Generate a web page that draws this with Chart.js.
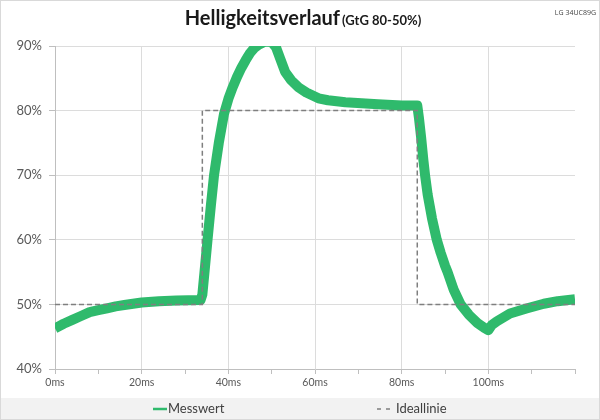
<!DOCTYPE html>
<html>
<head>
<meta charset="utf-8">
<script src="https://cdn.jsdelivr.net/npm/chart.js@4"></script>
<style>
html,body{margin:0;padding:0;background:#fff;}
#wrap{width:600px;height:420px;}
</style>
</head>
<body>
<div id="wrap"><canvas id="c" width="600" height="420"></canvas></div>
<script>
// ---- data ----
const titleMain = "Helligkeitsverlauf";
const titleSub = "(GtG 80-50%)";
const monitorLabel = "LG 34UC89G";
const seriesNames = ["Messwert", "Ideallinie"];

const messTime = [0, 2, 4, 6, 8, 10, 12, 14, 16, 18, 20, 24, 28, 33.6, 34.0, 34.5, 35.2, 36.0, 36.7, 37.8, 39.0, 40.1, 41.0, 42.0, 43.0, 44.0, 45.0, 46.0, 47.0, 48.5, 50.0, 51.0, 52.0, 53.1, 54.5, 56.2, 58.0, 60.8, 63.0, 67.0, 74.5, 80.0, 83.6, 84.0, 84.5, 85.0, 85.4, 86.0, 87.0, 88.1, 89.0, 90.0, 90.6, 92.0, 93.6, 95.5, 97.5, 99.0, 100.0, 100.8, 102, 105, 109, 112.8, 116, 120];
const messValue = [46.3, 47.0, 47.6, 48.2, 48.8, 49.1, 49.4, 49.7, 49.9, 50.1, 50.3, 50.5, 50.6, 50.7, 51.5, 55.0, 60.0, 65.5, 70.0, 75.0, 79.5, 82.0, 83.6, 85.2, 86.6, 87.8, 88.9, 89.7, 90.2, 90.7, 90.6, 89.8, 88.0, 86.0, 84.7, 83.6, 82.8, 81.9, 81.6, 81.3, 81.0, 80.8, 80.8, 78.8, 75.8, 72.4, 70.0, 67.0, 63.3, 60.0, 58.0, 56.0, 55.0, 52.3, 50.0, 48.4, 47.1, 46.4, 46.0, 46.8, 47.4, 48.6, 49.4, 50.1, 50.5, 50.8];

const idealTime = [0, 34, 34, 83.6, 83.6, 120];
const idealValue = [50, 50, 80, 80, 50, 50];

const xTickValues = [0, 20, 40, 60, 80, 100];
const yTickValues = [40, 50, 60, 70, 80, 90];

// ---- styling ----
const GREEN = '#2fba6c';
const DASH = '#7f7f7f';
const GRID = '#dcdcdc';
const AXIS = '#bfbfbf';
const TEXT = '#595959';

const toXY = (xs, ys) => xs.map((x, i) => ({x: x, y: ys[i]}));

const decorPlugin = {
  id: 'decor',
  beforeDraw(chart) {
    const ctx = chart.ctx;
    ctx.save();
    ctx.fillStyle = '#ffffff';
    ctx.fillRect(0, 0, chart.width, chart.height);
    // legend strip
    ctx.fillStyle = '#f2f2f2';
    ctx.fillRect(1, 398, chart.width - 2, 21);
    ctx.restore();
  },
  afterDraw(chart) {
    const ctx = chart.ctx;
    ctx.save();
    // title
    ctx.fillStyle = '#1a1a1a';
    ctx.textBaseline = 'alphabetic';
    const f1 = 'bold 20px Lato, "Open Sans", sans-serif';
    const f2 = 'bold 13px Lato, "Open Sans", sans-serif';
    ctx.font = f1;
    const w1 = ctx.measureText(titleMain).width;
    ctx.font = f2;
    const w2 = ctx.measureText(titleSub).width;
    const start = 303 - (w1 + 2 + w2) / 2;
    ctx.font = f1;
    ctx.textAlign = 'left';
    ctx.fillText(titleMain, start, 25);
    ctx.font = f2;
    ctx.fillText(titleSub, start + w1 + 2, 25);
    // monitor label
    ctx.font = '7px "Open Sans", sans-serif';
    ctx.fillStyle = '#444';
    ctx.textAlign = 'right';
    ctx.fillText(monitorLabel, 596, 15);
    // legend
    const ly = 409;
    ctx.textBaseline = 'middle';
    ctx.textAlign = 'left';
    ctx.font = '13px Lato, "Open Sans", sans-serif';
    ctx.fillStyle = '#404040';
    ctx.strokeStyle = GREEN;
    ctx.lineWidth = 2.5;
    ctx.beginPath(); ctx.moveTo(153, ly); ctx.lineTo(167, ly); ctx.stroke();
    ctx.fillText(chart.data.datasets[0].label, 168, ly);
    ctx.strokeStyle = DASH;
    ctx.lineWidth = 1.5;
    ctx.setLineDash([4, 5]);
    ctx.beginPath(); ctx.moveTo(377, ly); ctx.lineTo(393, ly); ctx.stroke();
    ctx.setLineDash([]);
    ctx.fillText(chart.data.datasets[1].label, 396, ly);
    // frame
    ctx.strokeStyle = '#d9d9d9';
    ctx.lineWidth = 1;
    ctx.strokeRect(0.5, 0.5, chart.width - 1, chart.height - 1);
    ctx.restore();
  }
};

new Chart(document.getElementById('c'), {
  type: 'line',
  data: {
    datasets: [
      {
        label: seriesNames[0],
        data: toXY(messTime, messValue),
        borderColor: GREEN,
        backgroundColor: GREEN,
        borderWidth: 10,
        pointRadius: 0,
        tension: 0,
        borderJoinStyle: 'round',
        borderCapStyle: 'butt',
        order: 2
      },
      {
        label: seriesNames[1],
        data: toXY(idealTime, idealValue),
        borderColor: DASH,
        backgroundColor: DASH,
        borderWidth: 1.5,
        borderDash: [5, 3],
        pointRadius: 0,
        tension: 0,
        order: 1
      }
    ]
  },
  options: {
    responsive: false,
    animation: false,
    events: [],
    layout: { padding: { top: 46, right: 25, bottom: 27, left: 0 } },
    plugins: {
      legend: { display: false },
      title: { display: false },
      tooltip: { enabled: false }
    },
    scales: {
      x: {
        type: 'linear',
        min: 0,
        max: 120,
        afterFit: s => { s.height = 24; },
        afterBuildTicks: s => {
          const t = [];
          for (let v = 0; v <= 120; v += 10) t.push({value: v});
          s.ticks = t;
        },
        ticks: {
          autoSkip: false,
          maxRotation: 0,
          padding: 2,
          color: TEXT,
          font: { family: 'Lato, "Open Sans", sans-serif', size: 10.5 },
          callback: v => xTickValues.includes(v) ? v + 'ms' : ''
        },
        grid: {
          color: c => (c.tick && xTickValues.includes(c.tick.value) && c.tick.value !== 0) ? GRID : 'rgba(0,0,0,0)',
          tickColor: AXIS,
          tickLength: 5,
          drawTicks: true
        },
        border: { color: AXIS, width: 1 }
      },
      y: {
        type: 'linear',
        min: 40,
        max: 90,
        afterFit: s => { s.width = 55; },
        afterBuildTicks: s => { s.ticks = yTickValues.map(v => ({value: v})); },
        ticks: {
          padding: 7,
          color: TEXT,
          font: { family: 'Lato, "Open Sans", sans-serif', size: 13 },
          callback: v => v + '%'
        },
        grid: {
          color: c => (c.tick && c.tick.value !== 40) ? GRID : 'rgba(0,0,0,0)',
          tickColor: AXIS,
          tickLength: 6
        },
        border: { color: AXIS, width: 1 }
      }
    }
  },
  plugins: [decorPlugin]
});
</script>
</body>
</html>
